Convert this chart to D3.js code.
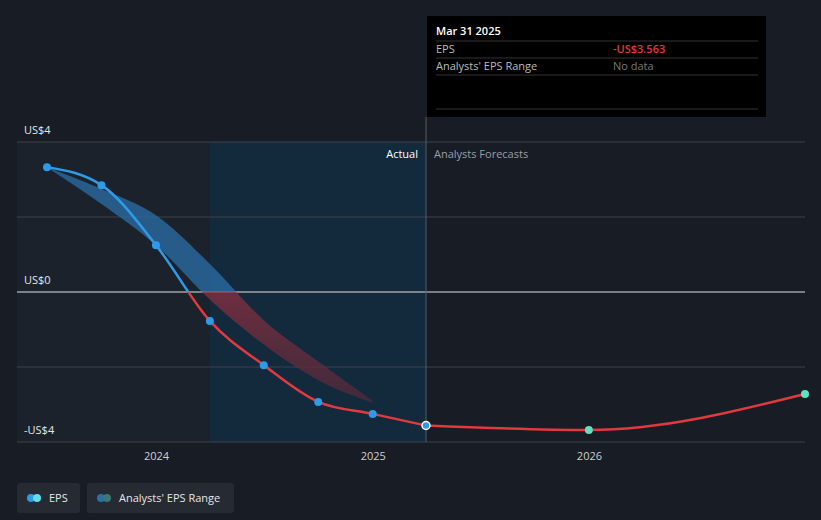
<!DOCTYPE html>
<html><head><meta charset="utf-8">
<script src="https://cdn.jsdelivr.net/npm/d3@7"></script>
<style>body{margin:0;background:#181c25;font-family:"Open Sans",sans-serif;}</style>
</head><body><svg id="c" width="821" height="520"></svg>
<script>
var actualDates = ["2023-06-30","2023-09-30","2023-12-31","2024-03-31","2024-06-30","2024-09-30","2024-12-31","2025-03-31"];
var actualEps = [3.33, 2.85, 1.25, -0.77, -1.95, -2.93, -3.25, -3.56];
var forecastDates = ["2025-03-31","2025-12-31","2026-12-31"];
var forecastEps = [-3.56, -3.68, -2.72];
var rangeDates = ["2023-06-30","2023-09-30","2023-12-31","2024-03-31","2024-06-30","2024-09-30","2024-12-31"];
var rangeHigh = [3.33, 2.75, 2.05, 0.75, -0.75, -1.85, -2.9];
var rangeLow = [3.33, 2.35, 1.25, -0.2, -1.4, -2.35, -2.95];
var yTicks = [4, 0, -4];
var yGrid = [4, 2, 0, -2, -4];
var xTicks = ["2024-01-01","2025-01-01","2026-01-01"];

var p = d3.timeParse("%Y-%m-%d");
var svg = d3.select("#c");
var x = d3.scaleTime().domain([p("2023-06-30"), p("2026-12-31")]).range([47, 805]);
var y = d3.scaleLinear().domain([4, -4]).range([142, 442]);

// shaded regions
svg.append("rect").attr("x", 17).attr("y", 142).attr("width", x(p("2024-03-31")) - 17).attr("height", 300).attr("fill", "#1c222c");
svg.append("rect").attr("x", x(p("2024-03-31"))).attr("y", 142).attr("width", x(p("2025-03-31")) - x(p("2024-03-31"))).attr("height", 300).attr("fill", "#13293c");

svg.selectAll(".g").data(yGrid).enter().append("line")
  .attr("x1", 17).attr("x2", 805).attr("y1", function(d){return y(d);}).attr("y2", function(d){return y(d);})
  .attr("stroke", function(d){return d === 0 ? "#e0e0e0" : "#3a404a";}).attr("stroke-width", 1);

svg.selectAll(".yl").data(yTicks).enter().append("text")
  .attr("x", 24).attr("y", function(d){return y(d) - 8;})
  .attr("fill", "#e6e6e6").attr("font-size", 11)
  .text(function(d){return (d < 0 ? "-US$" : "US$") + Math.abs(d);});

svg.selectAll(".xl").data(xTicks).enter().append("text")
  .attr("x", function(d){return x(p(d));}).attr("y", 460).attr("text-anchor", "middle")
  .attr("fill", "#cfcfcf").attr("font-size", 11).text(function(d){return d.slice(0,4);});

// range band gradient
var grad = svg.append("defs").append("linearGradient").attr("id", "rg")
  .attr("gradientUnits", "userSpaceOnUse").attr("x1", 0).attr("x2", 0).attr("y1", y(4)).attr("y2", y(-4));
grad.append("stop").attr("offset", "0%").attr("stop-color", "#2a6fa8");
grad.append("stop").attr("offset", "50%").attr("stop-color", "#2a6fa8");
grad.append("stop").attr("offset", "50%").attr("stop-color", "#8a3040");
grad.append("stop").attr("offset", "100%").attr("stop-color", "#3a2838");
var rng = rangeDates.map(function(d, i){return {d: p(d), h: rangeHigh[i], l: rangeLow[i]};});
svg.append("path").datum(rng)
  .attr("d", d3.area().curve(d3.curveMonotoneX).x(function(d){return x(d.d);}).y0(function(d){return y(d.l);}).y1(function(d){return y(d.h);}))
  .attr("fill", "url(#rg)").attr("opacity", 0.75);

var act = actualDates.map(function(d, i){return {d: p(d), v: actualEps[i]};});
var fc = forecastDates.map(function(d, i){return {d: p(d), v: forecastEps[i]};});
var line = d3.line().curve(d3.curveMonotoneX).x(function(d){return x(d.d);}).y(function(d){return y(d.v);});

var lg = svg.append("defs").append("linearGradient").attr("id", "lg")
  .attr("gradientUnits", "userSpaceOnUse").attr("x1", 0).attr("x2", 0).attr("y1", y(4)).attr("y2", y(-4));
lg.append("stop").attr("offset", "50%").attr("stop-color", "#2d9be8");
lg.append("stop").attr("offset", "50%").attr("stop-color", "#e0393e");
svg.append("path").datum(act).attr("d", line).attr("fill", "none").attr("stroke", "url(#lg)").attr("stroke-width", 2.5);
svg.append("path").datum(fc).attr("d", line).attr("fill", "none").attr("stroke", "#e0393e").attr("stroke-width", 2.5);

svg.selectAll(".ad").data(act.slice(0, -1)).enter().append("circle")
  .attr("cx", function(d){return x(d.d);}).attr("cy", function(d){return y(d.v);}).attr("r", 4).attr("fill", "#2d9be8");
svg.selectAll(".fd").data(fc.slice(1)).enter().append("circle")
  .attr("cx", function(d){return x(d.d);}).attr("cy", function(d){return y(d.v);}).attr("r", 4).attr("fill", "#5fe0c0");

var cx = x(p("2025-03-31"));
svg.append("line").attr("x1", cx).attr("x2", cx).attr("y1", 117).attr("y2", 442).attr("stroke", "#555c66");
svg.append("circle").attr("cx", cx).attr("cy", y(-3.56)).attr("r", 4).attr("fill", "#2d9be8").attr("stroke", "#fff").attr("stroke-width", 1.5);

svg.append("text").attr("x", cx - 8).attr("y", 158).attr("text-anchor", "end").attr("fill", "#fff").attr("font-size", 11).text("Actual");
svg.append("text").attr("x", cx + 8).attr("y", 158).attr("fill", "#9a9ea6").attr("font-size", 11).text("Analysts Forecasts");

// tooltip
var tt = svg.append("g");
tt.append("rect").attr("x", 427).attr("y", 16).attr("width", 339).attr("height", 101).attr("fill", "#000");
tt.append("text").attr("x", 436).attr("y", 35).attr("fill", "#fff").attr("font-size", 11).attr("font-weight", 600).text("Mar 31 2025");
[41, 58, 75, 109].forEach(function(v){tt.append("line").attr("x1", 436).attr("x2", 758).attr("y1", v).attr("y2", v).attr("stroke", "#333");});
tt.append("text").attr("x", 436).attr("y", 53).attr("fill", "#bbb").attr("font-size", 11).text("EPS");
tt.append("text").attr("x", 613).attr("y", 53).attr("fill", "#e0393e").attr("font-size", 11).attr("font-weight", 600).text("-US$3.563");
tt.append("text").attr("x", 436).attr("y", 70).attr("fill", "#bbb").attr("font-size", 11).text("Analysts' EPS Range");
tt.append("text").attr("x", 613).attr("y", 70).attr("fill", "#777").attr("font-size", 11).text("No data");

// legend
var leg = [{t: "EPS", x: 17, w: 63, c1: "#2d9be8", c2: "#5fe0e8"}, {t: "Analysts' EPS Range", x: 87, w: 147, c1: "#2a6fa8", c2: "#3a7a70"}];
leg.forEach(function(l){
  svg.append("rect").attr("x", l.x).attr("y", 483).attr("width", l.w).attr("height", 30).attr("rx", 3).attr("fill", "#252a33");
  svg.append("circle").attr("cx", l.x + 14).attr("cy", 498).attr("r", 4).attr("fill", l.c1);
  svg.append("circle").attr("cx", l.x + 20).attr("cy", 498).attr("r", 4).attr("fill", l.c2);
  svg.append("text").attr("x", l.x + 32).attr("y", 502).attr("fill", "#e6e6e6").attr("font-size", 11).text(l.t);
});
</script></body></html>
